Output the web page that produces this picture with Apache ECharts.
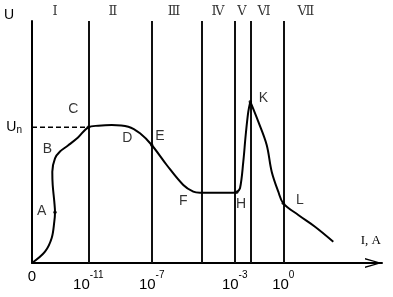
<!DOCTYPE html>
<html>
<head>
<meta charset="utf-8">
<script src="https://cdn.jsdelivr.net/npm/echarts@6/dist/echarts.min.js"></script>
<style>
html,body{margin:0;padding:0;background:#fff;}
#chart{width:393px;height:297px;}
</style>
</head>
<body>
<div id="chart"></div>
<script>
// Schematic units: x = position along current axis, y = voltage
var xMax = 350, yMax = 242;
var tickValues = [0, 56.3, 119.7, 202.7, 251.3];
var tickBase = ['0', '10', '10', '10', '10'];
var tickExp = ['', '-11', '-7', '-3', '0'];
var boundaries = [56.3, 119.7, 169.7, 202.7, 218.3, 251.3];
var regionNames = ['Ⅰ', 'Ⅱ', 'Ⅲ', 'Ⅳ', 'Ⅴ', 'Ⅵ', 'Ⅶ'];
var regionX = [23, 81, 142, 186, 210, 232, 274];
var regionY = 251;
var Un = 135.7;
var cX = 56.3;
// curve pieces: origin..H, H..K, K..end
var curveLow = [[0,0],[13,11.3],[19.7,25],[22.3,41.3],[23,50.7],[22.3,61.3],[20.7,78],[20.3,91.3],[23,104.7],[28,111.5],[36,117.5],[46,125.5],[56.3,135.7],[66.3,137.3],[79.7,138],[96.3,136.3],[108,129.7],[119.7,118],[134.7,98],[151.3,78],[161.3,71.3],[168,70.3],[201.3,70.3],[204.7,70.7]];
var curveRise = [[204.7,70.7],[208,74.7],[211.3,101.3],[213.7,128],[216.3,151.3],[218.3,161.3]];
var curveFall = [[218.3,161.3],[226.3,141.3],[234.7,118],[239.7,91.3],[246.3,71.3],[251.3,59.7],[266.3,48],[283,36.3],[301.3,21.3]];
var letterNames = ['A','B','C','D','E','F','H','K','L'];
var letterX = [9.7, 15.3, 41.3, 95.3, 128, 151.3, 209, 231.3, 268];
var letterY = [52.3, 114, 154, 124.7, 127, 62.3, 58.7, 165.3, 63];
var dotX = [23, 56.3, 119.7, 204.7, 218.3, 251.3];
var dotY = [50.7, 135.7, 118, 70.7, 161.3, 59.7];

var chart = echarts.init(document.getElementById('chart'), null, {renderer: 'canvas'});
var black = '#000';
var sans = 'Liberation Sans, Arial, sans-serif';
var serif = 'DejaVu Serif, Liberation Serif, serif';

function curveSeries(data) {
  return {
    type: 'line', data: data, smooth: 0.35, showSymbol: false, silent: true,
    lineStyle: {color: black, width: 2}, z: 5
  };
}

var letters = letterNames.map(function (n, i) { return {name: n, value: [letterX[i], letterY[i]]}; });
var dots = dotX.map(function (x, i) { return [x, dotY[i]]; });
var regions = regionNames.map(function (n, i) { return {name: n, value: [regionX[i], regionY]}; });

var option = {
  backgroundColor: '#fff',
  animation: false,
  grid: {left: 32, right: 11, top: 21, bottom: 34},
  xAxis: {
    type: 'value', min: 0, max: xMax,
    name: 'I, A', nameLocation: 'end', nameGap: -1,
    nameTextStyle: {fontFamily: 'Liberation Serif, serif', fontSize: 13, color: black, align: 'right', verticalAlign: 'bottom', padding: [0, 0, 16, 0]},
    axisLine: {show: true, lineStyle: {color: black, width: 2},
      symbol: ['none', 'path://M5,0 L10,17 L8.5,17 L5,4 L1.5,17 L0,17 Z'],
      symbolSize: [10, 17], symbolOffset: [0, -8.5]},
    axisTick: {show: false},
    splitLine: {show: false},
    axisLabel: {
      customValues: tickValues, margin: 4, color: black,
      formatter: function (v) {
        var best = 0;
        for (var i = 0; i < tickValues.length; i++) if (Math.abs(tickValues[i] - v) < Math.abs(tickValues[best] - v)) best = i;
        if (!tickExp[best]) return '{z|' + tickBase[best] + '}';
        return '{b|' + tickBase[best] + '}{s|' + tickExp[best] + '}';
      },
      rich: {
        z: {fontFamily: sans, fontSize: 15, lineHeight: 20, color: black},
        b: {fontFamily: sans, fontSize: 15, lineHeight: 35, color: black},
        s: {fontFamily: sans, fontSize: 10, lineHeight: 12, verticalAlign: 'top', padding: [3, 0, 0, 0], color: black}
      }
    }
  },
  yAxis: {
    type: 'value', min: 0, max: yMax,
    name: 'U', nameLocation: 'end', nameGap: 6,
    nameTextStyle: {fontFamily: sans, fontSize: 14, color: black, align: 'right', verticalAlign: 'middle', padding: [0, 18, 0, 0]},
    axisLine: {show: true, lineStyle: {color: black, width: 2}},
    axisTick: {show: false},
    splitLine: {show: false},
    axisLabel: {
      customValues: [Un], margin: 10, color: black,
      formatter: function () { return '{u|U}{n|n}'; },
      rich: {
        u: {fontFamily: sans, fontSize: 14, lineHeight: 15, verticalAlign: 'top', color: black},
        n: {fontFamily: sans, fontSize: 10, lineHeight: 11, verticalAlign: 'bottom', padding: [6, 0, 0, 0], color: black}
      }
    }
  },
  series: [
    curveSeries(curveLow),
    curveSeries(curveRise),
    curveSeries(curveFall),
    {
      type: 'line', data: [[0, Un], [cX, Un]], showSymbol: false, silent: true,
      lineStyle: {color: black, width: 1.5, type: [5, 3]}, z: 4,
      markLine: {
        silent: true, symbol: ['none', 'none'], label: {show: false},
        lineStyle: {color: '#111', width: 2, type: 'solid'},
        data: boundaries.map(function (b) { return {xAxis: b}; })
      }
    },
    {
      type: 'scatter', data: dots, symbolSize: 3.5, silent: true,
      itemStyle: {color: black}, z: 6
    },
    {
      type: 'scatter', data: letters, symbolSize: 0, silent: true, clip: false,
      label: {show: true, position: 'inside', formatter: '{b}', fontFamily: sans, fontSize: 14, color: black}
    },
    {
      type: 'scatter', data: regions, symbolSize: 0, silent: true, clip: false,
      label: {show: true, position: 'inside', formatter: '{b}', fontFamily: serif, fontSize: 13, color: black}
    }
  ]
};
chart.setOption(option);
</script>
</body>
</html>
